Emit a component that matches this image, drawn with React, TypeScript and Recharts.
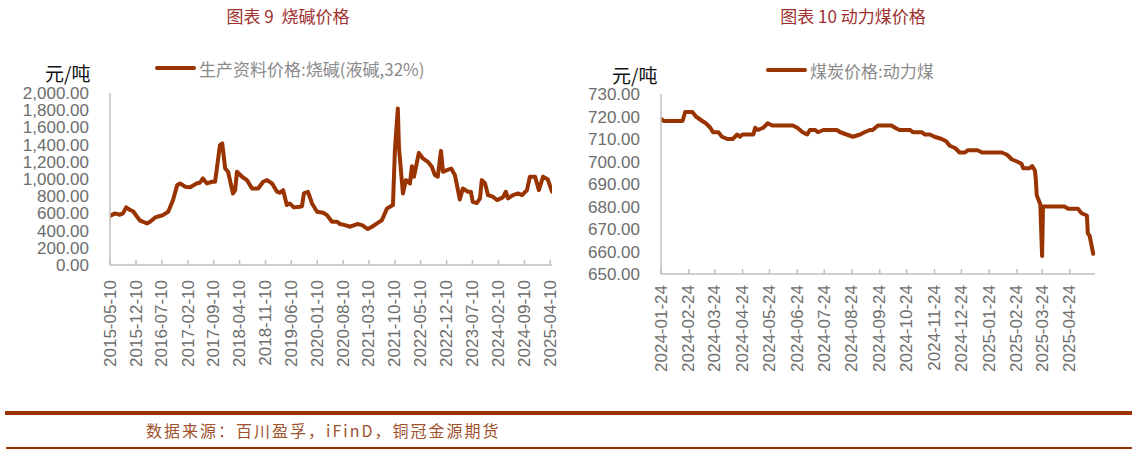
import React from 'react';
import { LineChart, Line, XAxis, YAxis } from 'recharts';

// ---------------------------------------------------------------------------
// Data
// ---------------------------------------------------------------------------

// 图表 9 烧碱价格
const causticDates = [
  '2015-05-10', '2015-06-20', '2015-07-31', '2015-08-25', '2015-09-20', '2015-10-22',
  '2015-11-16', '2015-12-19', '2016-01-13', '2016-03-10', '2016-04-04', '2016-05-16',
  '2016-06-25', '2016-07-19', '2016-08-31', '2016-10-10', '2016-11-13', '2016-12-07',
  '2017-01-19', '2017-02-28', '2017-04-25', '2017-05-19', '2017-06-13', '2017-07-16',
  '2017-08-27', '2017-09-21', '2017-10-31', '2017-11-19', '2017-12-13', '2018-01-06',
  '2018-02-15', '2018-03-05', '2018-03-20', '2018-05-01', '2018-06-10', '2018-07-22',
  '2018-09-10', '2018-10-22', '2018-11-22', '2019-01-03', '2019-02-13', '2019-03-09',
  '2019-04-04', '2019-05-04', '2019-05-28', '2019-07-01', '2019-08-21', '2019-09-06',
  '2019-09-22', '2019-10-25', '2019-11-28', '2020-01-08', '2020-02-28', '2020-03-30',
  '2020-05-10', '2020-06-22', '2020-07-16', '2020-08-25', '2020-10-07', '2020-12-04',
  '2021-01-13', '2021-03-01', '2021-04-04', '2021-05-16', '2021-06-25', '2021-08-06',
  '2021-08-31', '2021-09-24', '2021-10-10', '2021-11-03', '2021-11-12', '2021-12-15',
  '2022-01-09', '2022-02-11', '2022-02-27', '2022-03-16', '2022-04-25', '2022-05-28',
  '2022-07-08', '2022-08-10', '2022-09-04', '2022-09-28', '2022-10-24', '2022-11-10',
  '2022-12-13', '2023-01-16', '2023-02-16', '2023-03-28', '2023-04-22', '2023-06-03',
  '2023-06-27', '2023-07-13', '2023-08-15', '2023-09-10', '2023-09-25', '2023-10-22',
  '2023-11-15', '2023-12-25', '2024-01-28', '2024-03-17', '2024-04-10', '2024-04-28',
  '2024-06-08', '2024-07-19', '2024-08-22', '2024-10-01', '2024-10-25', '2024-12-07',
  '2025-01-07', '2025-02-10', '2025-03-22', '2025-04-25',
];
const causticValues = [
  570, 600, 585, 600, 670, 640,
  625, 561, 515, 484, 503, 553,
  570, 580, 619, 755, 929, 948,
  910, 905, 950, 957, 1006, 948,
  968, 968, 1393, 1413, 1122, 1084,
  832, 870, 1084, 1026, 987, 890,
  890, 968, 987, 948, 852, 840,
  870, 697, 716, 670, 677, 685,
  832, 852, 716, 619, 608, 580,
  503, 503, 476, 464, 445, 476,
  464, 418, 445, 484, 522, 658,
  677, 697, 1335, 1819, 1374, 832,
  987, 948, 1149, 1026, 1304, 1239,
  1200, 1142, 1045, 1026, 1327, 1084,
  1103, 1122, 1045, 762, 890, 852,
  852, 735, 720, 774, 987, 948,
  813, 794, 755, 786, 852, 774,
  813, 832, 813, 871, 1026, 1026,
  871, 1026, 994, 852,
];
const causticTicks = [
  '2015-05-10', '2015-12-10', '2016-07-10', '2017-02-10', '2017-09-10', '2018-04-10',
  '2018-11-10', '2019-06-10', '2020-01-10', '2020-08-10', '2021-03-10', '2021-10-10',
  '2022-05-10', '2022-12-10', '2023-07-10', '2024-02-10', '2024-09-10', '2025-04-10',
];
const causticYTicks = [0, 200, 400, 600, 800, 1000, 1200, 1400, 1600, 1800, 2000];

// 图表 10 动力煤价格
const coalDates = [
  '2024-01-24', '2024-01-27', '2024-02-17', '2024-02-20', '2024-02-28', '2024-03-03',
  '2024-03-10', '2024-03-14', '2024-03-19', '2024-03-22', '2024-03-28', '2024-04-01',
  '2024-04-07', '2024-04-13', '2024-04-18', '2024-04-21', '2024-04-24', '2024-05-06',
  '2024-05-08', '2024-05-11', '2024-05-17', '2024-05-22', '2024-05-27', '2024-06-19',
  '2024-06-24', '2024-06-27', '2024-06-30', '2024-07-05', '2024-07-08', '2024-07-14',
  '2024-07-17', '2024-07-23', '2024-08-07', '2024-08-11', '2024-08-18', '2024-08-25',
  '2024-09-02', '2024-09-07', '2024-09-13', '2024-09-16', '2024-09-22', '2024-10-07',
  '2024-10-11', '2024-10-16', '2024-10-28', '2024-10-31', '2024-11-10', '2024-11-13',
  '2024-11-19', '2024-11-24', '2024-12-02', '2024-12-07', '2024-12-11', '2024-12-17',
  '2024-12-22', '2024-12-28', '2024-12-31', '2025-01-11', '2025-01-16', '2025-02-07',
  '2025-02-13', '2025-02-18', '2025-02-24', '2025-03-01', '2025-03-03', '2025-03-10',
  '2025-03-13', '2025-03-16', '2025-03-17', '2025-03-18', '2025-03-22', '2025-03-24',
  '2025-03-25', '2025-04-18', '2025-04-22', '2025-05-03', '2025-05-07', '2025-05-13',
  '2025-05-14', '2025-05-16', '2025-05-20',
];
const coalValues = [
  719, 718, 718, 722, 722, 720,
  718, 717, 715, 713, 713, 711,
  710, 710, 712, 711, 712, 712,
  715, 714, 715, 717, 716, 716,
  715, 714, 713, 712, 714, 714,
  713, 714, 714, 713, 712, 711,
  712, 713, 714, 714, 716, 716,
  715, 714, 714, 713, 713, 712,
  712, 711, 710, 709, 707, 706,
  704, 704, 705, 705, 704, 704,
  703, 701, 700, 699, 697, 697,
  698, 696, 692, 685, 681, 658,
  680, 680, 679, 679, 677, 676,
  668, 667, 659,
];
const coalTicks = [
  '2024-01-24', '2024-02-24', '2024-03-24', '2024-04-24', '2024-05-24', '2024-06-24',
  '2024-07-24', '2024-08-24', '2024-09-24', '2024-10-24', '2024-11-24', '2024-12-24',
  '2025-01-24', '2025-02-24', '2025-03-24', '2025-04-24',
];
const coalYTicks = [650, 660, 670, 680, 690, 700, 710, 720, 730];

// ---------------------------------------------------------------------------
// Helpers
// ---------------------------------------------------------------------------

const LINE_COLOR = '#993300';
const AXIS_COLOR = '#bfbfbf';
const TICK_COLOR = '#6d6d6d';
const LATIN_FONT = '"Liberation Sans", Arial, sans-serif';
const CJK_FONT = '"Noto Sans CJK SC", sans-serif';

const toTime = (s: string) => Date.UTC(+s.slice(0, 4), +s.slice(5, 7) - 1, +s.slice(8, 10));
const fmtDate = (v: number) => new Date(v).toISOString().slice(0, 10);
const fmtNum = (v: number) =>
  v.toLocaleString('en-US', { minimumFractionDigits: 2, maximumFractionDigits: 2 });

const causticData = causticDates.map((d, i) => ({ t: toTime(d), v: causticValues[i] }));
const coalData = coalDates.map((d, i) => ({ t: toTime(d), v: coalValues[i] }));

// rotated date label with a short tick pointing into the plot
const makeDateTick = (gap: number) =>
  // eslint-disable-next-line @typescript-eslint/no-explicit-any
  function DateTick({ x, y, payload }: any) {
    return (
      <g>
        <line x1={x} y1={y} x2={x} y2={y - 5} stroke={AXIS_COLOR} strokeWidth={1.5} />
        <text
          x={0}
          y={0}
          transform={`translate(${x},${y + gap}) rotate(-90)`}
          textAnchor="end"
          dominantBaseline="central"
          fill={TICK_COLOR}
          fontSize={17}
          fontFamily={LATIN_FONT}
        >
          {fmtDate(payload.value)}
        </text>
      </g>
    );
  };

const CausticTick = makeDateTick(15);
const CoalTick = makeDateTick(11);

const abs = (left: number, top: number): React.CSSProperties => ({
  position: 'absolute',
  left,
  top,
  whiteSpace: 'nowrap',
});

function Legend({ x, y, label }: { x: number; y: number; label: string }) {
  return (
    <div style={{ ...abs(x, y - 12), display: 'flex', alignItems: 'center', height: 24 }}>
      <div style={{ width: 41, height: 4, borderRadius: 2, background: LINE_COLOR }} />
      <span style={{ marginLeft: 3, fontSize: 17, color: '#8a8a8a', fontFamily: CJK_FONT }}>
        {label}
      </span>
    </div>
  );
}

// ---------------------------------------------------------------------------
// Component
// ---------------------------------------------------------------------------

export default function App() {
  return (
    <div
      style={{
        position: 'absolute',
        left: 0,
        top: 0,
        width: 1132,
        height: 452,
        background: '#fff',
        overflow: 'hidden',
      }}
    >
      {/* titles */}
      <div
        style={{
          ...abs(170, 3),
          width: 236,
          textAlign: 'center',
          fontSize: 17,
          color: '#a0302f',
          fontFamily: CJK_FONT,
        }}
      >
        图表 9&nbsp; 烧碱价格
      </div>
      <div
        style={{
          ...abs(735, 3),
          width: 236,
          textAlign: 'center',
          fontSize: 17,
          color: '#a0302f',
          fontFamily: CJK_FONT,
        }}
      >
        图表 10 动力煤价格
      </div>

      {/* units */}
      <div style={{ ...abs(45, 59), fontSize: 19, color: '#111', fontFamily: CJK_FONT }}>元/吨</div>
      <div style={{ ...abs(612, 61), fontSize: 19, color: '#111', fontFamily: CJK_FONT }}>元/吨</div>

      {/* legends */}
      <Legend x={155} y={68} label="生产资料价格:烧碱(液碱,32%)" />
      <Legend x={766} y={70} label="煤炭价格:动力煤" />

      {/* left chart */}
      <div style={{ position: 'absolute', left: 0, top: 0 }}>
        <LineChart
          width={570}
          height={400}
          data={causticData}
          margin={{ top: 93, right: 18, bottom: 0, left: 0 }}
        >
          <XAxis
            type="number"
            dataKey="t"
            domain={[toTime(causticTicks[0]), toTime('2025-04-25')]}
            ticks={causticTicks.map(toTime)}
            interval={0}
            height={135}
            tickSize={0}
            tickMargin={0}
            tickLine={false}
            axisLine={{ stroke: AXIS_COLOR, strokeWidth: 1.5 }}
            tick={<CausticTick />}
            allowDataOverflow
          />
          <YAxis
            type="number"
            domain={[0, 2000]}
            ticks={causticYTicks}
            interval={0}
            width={110}
            tickSize={0}
            tickMargin={21}
            tickLine={false}
            axisLine={{ stroke: AXIS_COLOR, strokeWidth: 1.5 }}
            tick={{ fill: TICK_COLOR, fontSize: 17, fontFamily: LATIN_FONT }}
            tickFormatter={fmtNum}
          />
          <Line
            type="linear"
            dataKey="v"
            stroke={LINE_COLOR}
            strokeWidth={4}
            strokeLinejoin="round"
            strokeLinecap="round"
            dot={false}
            activeDot={false}
            isAnimationActive={false}
          />
        </LineChart>
      </div>

      {/* right chart */}
      <div style={{ position: 'absolute', left: 570, top: 0 }}>
        <LineChart
          width={562}
          height={400}
          data={coalData}
          margin={{ top: 94, right: 37, bottom: 0, left: 0 }}
        >
          <XAxis
            type="number"
            dataKey="t"
            domain={[toTime(coalTicks[0]), toTime('2025-05-22')]}
            ticks={coalTicks.map(toTime)}
            interval={0}
            height={126}
            tickSize={0}
            tickMargin={0}
            tickLine={false}
            axisLine={{ stroke: AXIS_COLOR, strokeWidth: 1.5 }}
            tick={<CoalTick />}
            allowDataOverflow
          />
          <YAxis
            type="number"
            domain={[650, 730]}
            ticks={coalYTicks}
            interval={0}
            width={91}
            tickSize={0}
            tickMargin={21}
            tickLine={false}
            axisLine={{ stroke: AXIS_COLOR, strokeWidth: 1.5 }}
            tick={{ fill: TICK_COLOR, fontSize: 17, fontFamily: LATIN_FONT }}
            tickFormatter={fmtNum}
          />
          <Line
            type="linear"
            dataKey="v"
            stroke={LINE_COLOR}
            strokeWidth={4}
            strokeLinejoin="round"
            strokeLinecap="round"
            dot={false}
            activeDot={false}
            isAnimationActive={false}
          />
        </LineChart>
      </div>

      {/* footer rules and source */}
      <div style={{ position: 'absolute', left: 5, top: 411, width: 1127, height: 4, background: LINE_COLOR }} />
      <div style={{ position: 'absolute', left: 6, top: 447, width: 1126, height: 2, background: LINE_COLOR }} />
      <div
        style={{
          ...abs(146, 419),
          fontSize: 16,
          letterSpacing: 2,
          color: '#a0522d',
          fontFamily: CJK_FONT,
          lineHeight: '22px',
        }}
      >
        数据来源：百川盈孚，iFinD，铜冠金源期货
      </div>
    </div>
  );
}
